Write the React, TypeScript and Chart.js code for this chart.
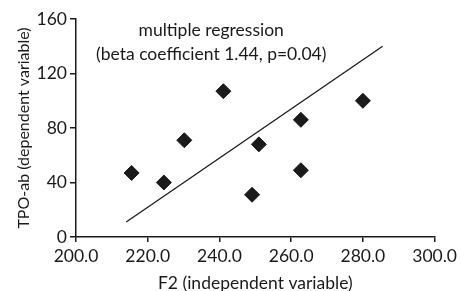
import React, { useEffect, useRef } from "react";
import { Chart, registerables } from "chart.js";

Chart.register(...registerables);

const xValues = [215.5, 224.5, 230.2, 241.1, 251.0, 249.1, 262.7, 262.7, 280.0];
const yValues = [47, 40, 71, 107, 68, 31, 86, 49, 100];
const lineX = [214, 285.5];
const lineY = [11, 140];
const noteLines = ["multiple regression", "(beta coefficient 1.44, p=0.04)"];
const noteX = 237.7;
const noteY = [151.3, 134.3];
const xTitle = "F2 (independent variable)";
const yTitle = "TPO-ab (dependent variable)";

const FONT = "Lato, 'Open Sans', sans-serif";
const INK = "#1a1a1a";

const notePlugin = {
  id: "note",
  afterDraw(chart: any) {
    const { ctx, scales } = chart;
    ctx.save();
    ctx.font = `17.5px ${FONT}`;
    ctx.fillStyle = INK;
    ctx.textAlign = "center";
    ctx.textBaseline = "middle";
    noteLines.forEach((t, i) => {
      ctx.fillText(t, scales.x.getPixelForValue(noteX), scales.y.getPixelForValue(noteY[i]));
    });
    ctx.restore();
  },
};

export default function App() {
  const ref = useRef<HTMLCanvasElement>(null);
  useEffect(() => {
    if (!ref.current) return;
    const chart = new Chart(ref.current, {
      type: "scatter",
      data: {
        datasets: [
          {
            data: xValues.map((x, i) => ({ x, y: yValues[i] })),
            pointStyle: "rectRot",
            pointRadius: 7.5,
            pointBackgroundColor: INK,
            pointBorderColor: INK,
            pointBorderWidth: 1,
            showLine: false,
          },
          {
            data: lineX.map((x, i) => ({ x, y: lineY[i] })),
            showLine: true,
            pointRadius: 0,
            borderColor: INK,
            borderWidth: 1.3,
          },
        ],
      },
      options: {
        responsive: false,
        animation: false,
        layout: { padding: { top: 19, right: 24, left: 0, bottom: 0 } },
        plugins: { legend: { display: false }, tooltip: { enabled: false } },
        scales: {
          x: {
            type: "linear",
            min: 200,
            max: 300,
            afterFit: (s: any) => { s.height = 54; },
            ticks: {
              stepSize: 20,
              color: INK,
              font: { family: FONT, size: 17.5 },
              padding: 4,
              callback: (v: any) => Number(v).toFixed(1),
            },
            grid: { drawOnChartArea: false, drawTicks: true, tickLength: 5, color: INK, lineWidth: 1.5 },
            border: { display: true, color: INK, width: 1.5 },
            title: { display: true, text: xTitle, color: INK, font: { family: FONT, size: 17.5 }, padding: { top: 0, bottom: -3 } },
          },
          y: {
            type: "linear",
            min: 0,
            max: 160,
            afterFit: (s: any) => { s.width = 76; },
            ticks: {
              stepSize: 40,
              color: INK,
              font: { family: FONT, size: 17.5 },
              padding: 3,
            },
            grid: { drawOnChartArea: false, drawTicks: true, tickLength: 6, color: INK, lineWidth: 1.5 },
            border: { display: true, color: INK, width: 1.5 },
            title: { display: true, text: yTitle, color: INK, font: { family: FONT, size: 16 }, padding: { top: 14.5, bottom: 0 } },
          },
        },
      },
      plugins: [notePlugin],
    });
    return () => chart.destroy();
  }, []);
  return (
    <div style={{ position: "absolute", left: 0, top: 0, width: 461, height: 291, background: "#fff" }}>
      <canvas ref={ref} width={461} height={291} />
    </div>
  );
}
